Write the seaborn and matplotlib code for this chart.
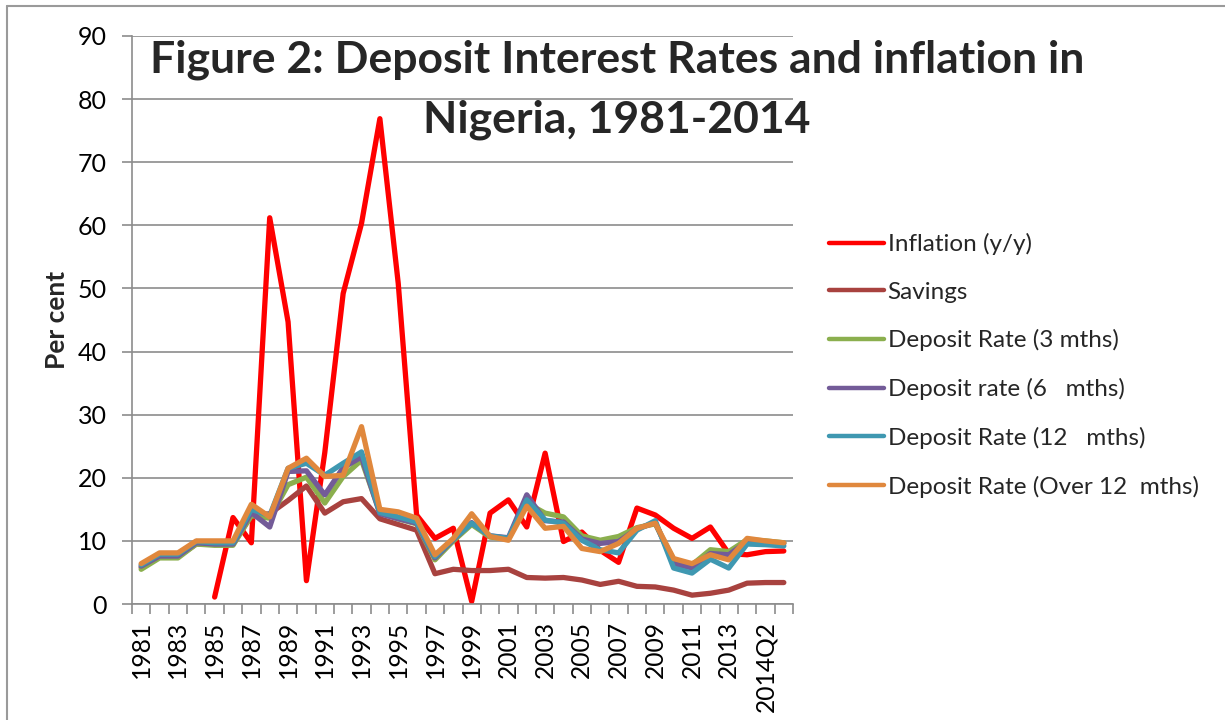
import numpy as np
import pandas as pd
import matplotlib
matplotlib.use("Agg")
import matplotlib.pyplot as plt
from matplotlib.lines import Line2D
from matplotlib.ticker import FixedLocator
import seaborn as sns

categories = [str(y) for y in range(1981, 2014)] + ["2014Q1", "2014Q2", "2014Q3"]

inflation = [np.nan, np.nan, np.nan, np.nan, 1.1, 13.7, 9.7, 61.2, 44.7, 3.7,
             24.0, 49.2, 60.3, 76.9, 50.8, 14.1, 10.4, 12.0, 0.4, 14.4,
             16.5, 12.2, 23.9, 9.9, 11.4, 8.5, 6.6, 15.2, 14.1, 12.0,
             10.4, 12.2, 8.0, 7.8, 8.3, 8.4]
savings = [5.8, 7.5, 7.5, 9.5, 9.5, 9.5, 14.0, 14.3, 16.4, 18.7,
           14.4, 16.2, 16.7, 13.5, 12.6, 11.7, 4.8, 5.5, 5.3, 5.3,
           5.5, 4.2, 4.1, 4.2, 3.8, 3.1, 3.6, 2.8, 2.7, 2.2,
           1.4, 1.7, 2.2, 3.3, 3.4, 3.4]
dep_3m = [5.5, 7.3, 7.3, 9.5, 9.3, 9.3, 14.0, 13.6, 18.9, 20.1,
          16.0, 20.2, 22.8, 14.5, 13.5, 12.7, 7.0, 10.0, 12.6, 10.6,
          10.3, 16.0, 14.4, 13.8, 10.8, 10.1, 10.7, 12.1, 12.7, 7.0,
          6.2, 8.6, 8.3, 10.2, 10.0, 9.7]
dep_6m = [6.0, 7.6, 7.6, 9.7, 9.5, 9.5, 14.5, 12.2, 21.0, 21.1,
          17.3, 21.6, 23.3, 14.3, 13.5, 12.8, 7.3, 10.2, 12.9, 10.8,
          10.5, 17.3, 13.2, 13.0, 10.3, 9.6, 9.9, 11.9, 12.9, 6.4,
          5.7, 8.0, 7.8, 9.9, 9.8, 9.6]
dep_12m = [6.2, 7.9, 7.9, 9.9, 9.7, 9.7, 15.0, 14.0, 21.5, 22.3,
           20.4, 22.3, 24.1, 14.5, 13.8, 13.0, 7.5, 10.3, 12.8, 10.8,
           10.4, 16.5, 13.3, 12.8, 10.1, 8.6, 8.1, 11.7, 13.2, 5.7,
           4.9, 7.1, 5.7, 9.5, 9.4, 9.2]
dep_over12m = [6.4, 8.1, 8.1, 10.0, 10.0, 10.0, 15.8, 13.8, 21.5, 23.1,
               20.2, 20.4, 28.1, 15.0, 14.6, 13.6, 7.8, 10.4, 14.3, 10.7,
               10.1, 15.5, 12.0, 12.3, 8.8, 8.3, 9.6, 12.0, 12.8, 7.2,
               6.4, 7.8, 7.0, 10.4, 10.0, 9.7]

series_names = ["Inflation (y/y)", "Savings", "Deposit Rate (3 mths)",
                "Deposit rate (6   mths)", "Deposit Rate (12   mths)",
                "Deposit Rate (Over 12  mths)"]
series_values = [inflation, savings, dep_3m, dep_6m, dep_12m, dep_over12m]
colors = ["#FF0000", "#A8423F", "#8BAF4E", "#735B98", "#3F98B1", "#E0883D"]

title_lines = ["Figure 2: Deposit Interest Rates and inflation in", "Nigeria, 1981-2014"]

sns.set_theme(style="white")
plt.rcParams["font.family"] = ["Lato", "DejaVu Sans"]
plt.rcParams["lines.solid_joinstyle"] = "round"
plt.rcParams["lines.solid_capstyle"] = "round"

rows = []
for name, vals in zip(series_names, series_values):
    for i, v in enumerate(vals):
        rows.append({"pos": i, "series": name, "value": v})
df = pd.DataFrame(rows)

W, H = 1225, 720
fig = plt.figure(figsize=(W / 100, H / 100), dpi=100)
ax = fig.add_axes([132 / W, 1 - 604 / H, (793 - 132) / W, (604 - 36) / H])

sns.lineplot(data=df.dropna(), x="pos", y="value", hue="series",
             hue_order=series_names, palette=colors, linewidth=3.8,
             estimator=None, sort=False, legend=False, ax=ax)

ax.set_xlim(-0.5, len(categories) - 0.5)
ax.set_ylim(0, 90)
ax.set_yticks(np.arange(0, 91, 10))
ax.yaxis.grid(True, color="#8C8C8C", linewidth=1.2)
ax.xaxis.grid(False)
ax.set_axisbelow(True)

label_pos = list(range(0, len(categories), 2))
ax.set_xticks(label_pos)
ax.set_xticklabels([categories[i] for i in label_pos], rotation=90, fontsize=17.7)
ax.xaxis.set_minor_locator(FixedLocator(np.arange(-0.5, len(categories), 1.0)))
ax.tick_params(axis="x", which="major", length=0, pad=12, colors="black")
ax.tick_params(axis="x", which="minor", length=7, width=1.2, color="#8C8C8C",
               direction="out", bottom=True)
ax.tick_params(axis="y", which="major", length=7, width=1.2, color="#8C8C8C",
               direction="out", left=True, labelsize=18, pad=11, labelcolor="black")

for s in ["top", "right"]:
    ax.spines[s].set_visible(False)
for s in ["left", "bottom"]:
    ax.spines[s].set_color("#8C8C8C")
    ax.spines[s].set_linewidth(1.2)

ax.set_xlabel("")
ax.set_ylabel("")
fig.text(57 / W, 1 - 320 / H, "Per cent", rotation=90, ha="center", va="center",
         fontsize=19, fontweight="bold")

handles = [Line2D([0], [0], color=c, linewidth=3.2) for c in colors]
fig.legend(handles, series_names, loc="upper left",
           bbox_to_anchor=(829 / W, 1 - 233 / H), frameon=False,
           fontsize=17.5, handlelength=2.26, handletextpad=0.15,
           labelspacing=1.095, borderaxespad=0, borderpad=0)

fig.text(617 / W, 1 - 72 / H, title_lines[0], ha="center", va="baseline",
         fontsize=32, fontweight="bold")
fig.text(617 / W, 1 - 132 / H, title_lines[1], ha="center", va="baseline",
         fontsize=32, fontweight="bold")

fig.add_artist(Line2D([7 / W, 7 / W], [0, 1 - 6 / H], color="#9A9A9A", linewidth=1.5))
fig.add_artist(Line2D([7 / W, 1], [1 - 6 / H, 1 - 6 / H], color="#9A9A9A", linewidth=1.5))

fig.savefig("out.png", dpi=100)
